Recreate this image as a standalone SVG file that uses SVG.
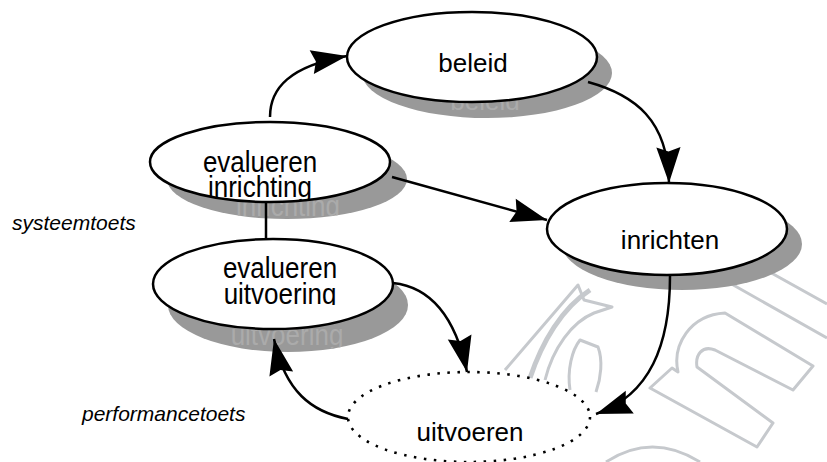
<svg xmlns="http://www.w3.org/2000/svg" width="827" height="462" viewBox="0 0 827 462">
<style>
.sh{fill:#999999;stroke:none}
.nd{fill:#ffffff;stroke:#000000;stroke-width:2.5}
.dot{fill:#ffffff;stroke:#000000;stroke-width:2.6;stroke-dasharray:2.5 7.5}
.t{font-family:"Liberation Sans",Arial,sans-serif;font-size:26px;fill:#000000;text-anchor:middle}
.st{font-family:"Liberation Sans",Arial,sans-serif;font-size:26px;fill:#ababab;text-anchor:middle}
.lb{font-family:"Liberation Sans",Arial,sans-serif;font-size:21px;font-style:italic;fill:#000000}
.cn{fill:none;stroke:#000000;stroke-width:2.5}
.wm{fill:none;stroke:#c6c9cd;stroke-width:3;stroke-linejoin:round}
</style>
<defs>
<marker id="ah" markerUnits="userSpaceOnUse" markerWidth="40" markerHeight="30" viewBox="-36 -13 38 26" refX="0" refY="0" orient="auto">
<path d="M0,0 L-34,-11.5 L-30,0 L-34,11.5 Z" fill="#000000"/>
</marker>
<clipPath id="c1s"><ellipse cx="487" cy="73" rx="125" ry="45"/></clipPath>
<clipPath id="c2s"><ellipse cx="287" cy="179" rx="120" ry="40"/></clipPath>
<clipPath id="c2t"><rect x="140" y="120" width="260" height="80"/></clipPath>
<clipPath id="c3s"><ellipse cx="288" cy="305" rx="120" ry="47"/></clipPath>
<clipPath id="c3t"><rect x="140" y="236" width="260" height="69"/></clipPath>
</defs>
<g id="watermark">
<path class="wm" d="M650,388 L672,368 L678,372 C672,345 690,315 725,313 L813,366 L793,390 L715,350 C702,345 695,355 697,367 L773,423 L757,447 Z"/>
<path class="wm" d="M728,282 L827,338 M766,270 L827,304"/>
<path class="wm" d="M505,370 L578,285 L584,300 L612,307 L594,313 C572,322 553,348 545,380"/>
<path class="wm" style="stroke-width:5" d="M530,378 C542,342 562,308 590,290"/>
<path class="wm" d="M570,390 C567,370 572,350 580,340 L598,347 C603,360 601,378 596,392"/>
<path class="wm" d="M606,462 Q652,432 700,462"/>
</g>
<g id="node-beleid">
<ellipse class="sh" cx="487" cy="73" rx="125" ry="45"/>
<text class="st" x="485" y="110" clip-path="url(#c1s)">beleid</text>
<ellipse class="nd" cx="472" cy="57" rx="125" ry="45"/>
<text class="t" x="473" y="72">beleid</text>
</g>
<g id="node-evalueren-inrichting">
<ellipse class="sh" cx="287" cy="179" rx="120" ry="40"/>
<g clip-path="url(#c2s)"><text class="st" transform="translate(288,216) scale(1,1.1)">inrichting</text></g>
<ellipse class="nd" cx="270" cy="162" rx="120" ry="40"/>
<g clip-path="url(#c2t)">
<text class="t" transform="translate(260,172) scale(1,1.1)">evalueren</text>
<text class="t" transform="translate(260,197) scale(1,1.1)">inrichting</text>
</g>
</g>
<g id="node-evalueren-uitvoering">
<ellipse class="sh" cx="288" cy="305" rx="120" ry="47"/>
<g clip-path="url(#c3s)"><text class="st" transform="translate(287,345) scale(1,1.1)">uitvoering</text></g>
<ellipse class="nd" cx="273" cy="284" rx="120" ry="45"/>
<g clip-path="url(#c3t)">
<text class="t" transform="translate(280,278) scale(1,1.1)">evalueren</text>
<text class="t" transform="translate(280,304) scale(1,1.1)">uitvoering</text>
</g>
</g>
<g id="node-inrichten">
<ellipse class="sh" cx="682" cy="244" rx="120" ry="46"/>
<ellipse class="nd" cx="667" cy="229" rx="120" ry="46"/>
<text class="t" x="670" y="249">inrichten</text>
</g>
<g id="node-uitvoeren">
<ellipse class="dot" cx="469" cy="417" rx="121" ry="45"/>
<text class="t" x="470" y="441">uitvoeren</text>
</g>
<g id="connectors">
<path class="cn" marker-end="url(#ah)" d="M270,117 C270,88 290,66 347,56"/>
<path class="cn" marker-end="url(#ah)" d="M588,82 C635,95 668,120 669,183"/>
<path class="cn" marker-end="url(#ah)" d="M392,177 L547,220"/>
<path class="cn" d="M266,202 L266,239"/>
<path class="cn" marker-end="url(#ah)" d="M393,283 C430,287 455,315 467,372"/>
<path class="cn" marker-end="url(#ah)" d="M348,419 C312,412 285,392 274,339"/>
<path class="cn" marker-end="url(#ah)" d="M670,276 C670,345 650,395 596,414"/>
</g>
<g id="labels">
<text class="lb" x="12" y="230">systeemtoets</text>
<text class="lb" x="82" y="421">performancetoets</text>
</g>
</svg>
